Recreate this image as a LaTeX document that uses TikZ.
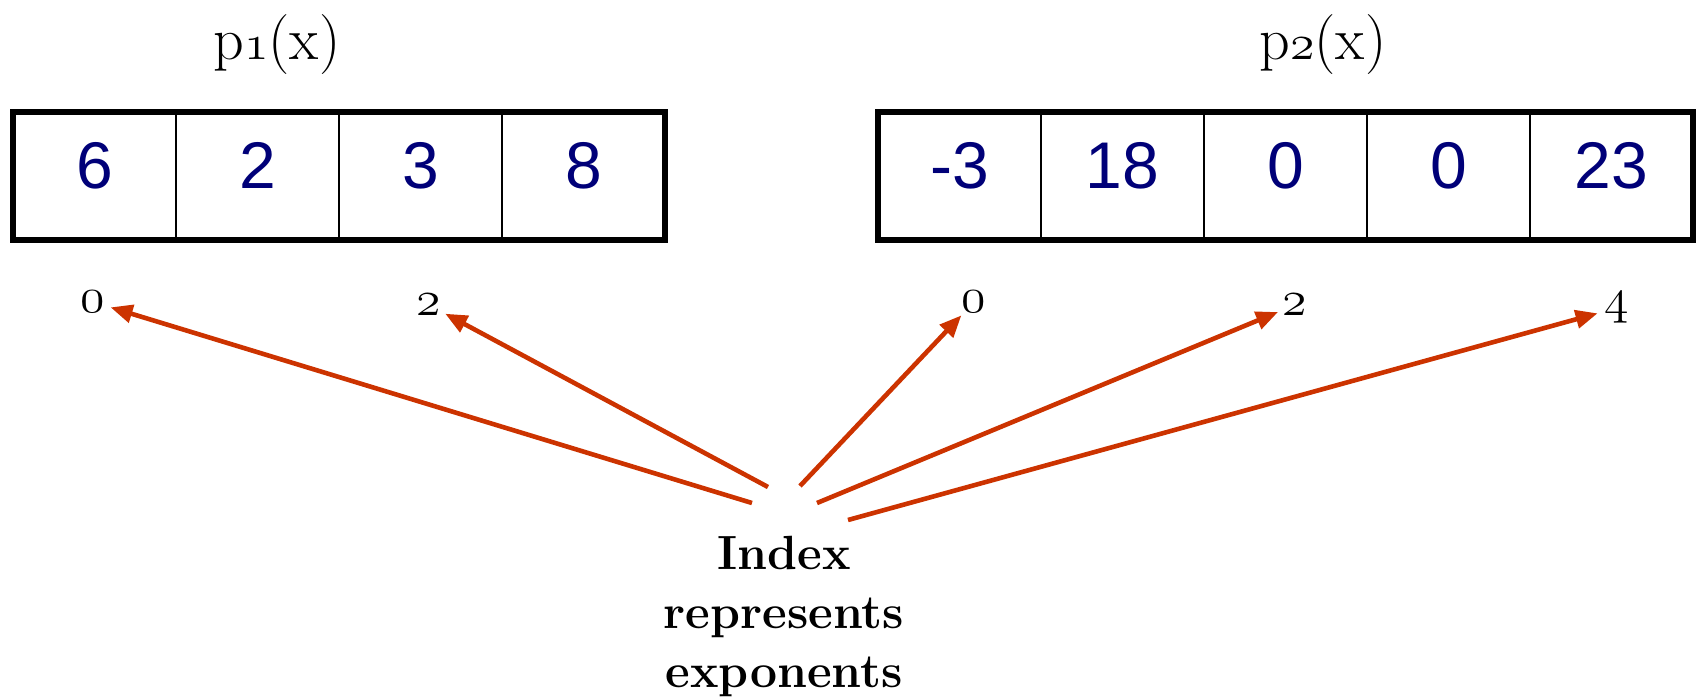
\documentclass[tikz,border=0pt]{standalone}
\usepackage{fontspec}
\newfontfamily\arialf{Liberation Sans}
\usetikzlibrary{arrows.meta}
\definecolor{arrred}{RGB}{204,51,0}
\definecolor{numblue}{RGB}{0,0,120}
\newcommand\osnum[1]{{\usefont{OML}{cmm}{m}{it}#1}}
\begin{document}
\begin{tikzpicture}[x=0.5pt,y=-0.5pt,
  cell/.style={draw, line width=1pt, rectangle, inner sep=0pt, outer sep=0pt,
    minimum width=81.5pt, minimum height=64pt, text height=20pt, text depth=8pt,
    font=\arialf\fontsize{33}{36}\selectfont, text=numblue},
  outerbox/.style={draw, line width=3pt},
  title/.style={anchor=base, inner sep=0pt, font=\fontsize{30}{34}\selectfont},
  idxlab/.style={circle, inner sep=0pt, minimum size=18pt, font=\fontsize{31}{34}\selectfont},
  pointer/.style={draw=arrred, line width=2.3pt, -{Triangle[length=11pt,width=9pt]}}
]
\useasboundingbox (0,0) rectangle (1696,696);
% titles
\node[title] (t1) at (277,59) {p\osnum{1}(x)};
\node[title] (t2) at (1323,59) {p\osnum{2}(x)};
% p1 cells
\node[cell] (a0) at (94.5,176) {6};
\node[cell] (a1) at (257.5,176) {2};
\node[cell] (a2) at (420.5,176) {3};
\node[cell] (a3) at (583.5,176) {8};
\draw[outerbox] (a0.north west) rectangle (a3.south east);
% p2 cells
\node[cell] (b0) at (959.5,176) {-3};
\node[cell] (b1) at (1122.5,176) {18};
\node[cell] (b2) at (1285.5,176) {0};
\node[cell] (b3) at (1448.5,176) {0};
\node[cell] (b4) at (1611.5,176) {23};
\draw[outerbox] (b0.north west) rectangle (b4.south east);
% index labels
\node[idxlab] (l1) at (93,302) {\osnum{0}};
\node[idxlab] (l2) at (429,305) {\osnum{2}};
\node[idxlab] (l3) at (974,302) {\osnum{0}};
\node[idxlab] (l4) at (1295,305) {\osnum{2}};
\node[idxlab] (l5) at (1617,308) {\osnum{4}};
% explanation
\node[anchor=north, align=center, inner sep=0pt,
  font=\fontsize{24}{29.5}\selectfont\bfseries] (idx) at (784,536)
  {Index\\represents\\exponents};
% arrow starts
\coordinate (s1) at (752,503);
\coordinate (s2) at (768,487);
\coordinate (s3) at (800,486);
\coordinate (s4) at (817,503);
\coordinate (s5) at (848,520);
\draw[pointer] (s1) -- (l1);
\draw[pointer] (s2) -- (l2);
\draw[pointer] (s3) -- (l3);
\draw[pointer] (s4) -- (l4);
\draw[pointer] (s5) -- (l5);
\end{tikzpicture}
\end{document}
